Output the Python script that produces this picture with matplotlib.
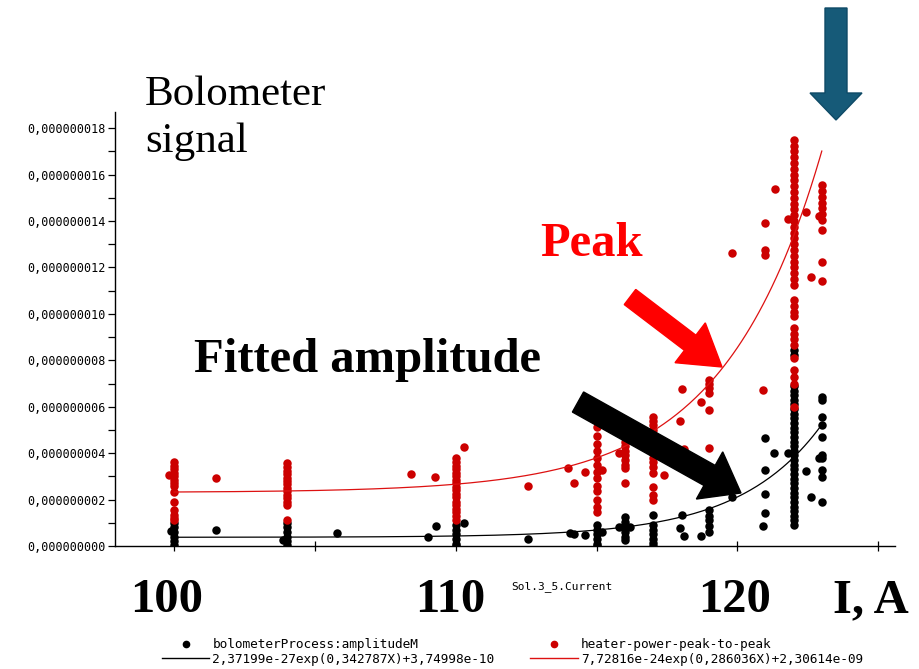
import numpy as np
import matplotlib.pyplot as plt
from matplotlib.lines import Line2D
from matplotlib.patches import FancyArrow
from matplotlib.ticker import FuncFormatter, MultipleLocator

# bolometer amplitude (black), signal in units of 1e-9
amp_x = [100, 100, 100, 100, 100, 100, 99.9, 101.5,
         104, 104, 104, 104, 104, 104, 103.85, 105.8,
         109.0, 109.3, 110.3, 110, 110, 110, 110, 110, 110, 112.55,
         114.05, 114.2, 114.6, 115, 115, 115, 115, 115, 115, 115.2,
         116, 116, 116, 116, 116, 116, 115.8, 116.2,
         117, 117, 117, 117, 117, 117, 117,
         118.05, 117.95, 118.1, 118.7, 119, 119, 119, 119, 119, 119.8,
         121.0, 121.0, 121.0, 121.0, 120.9, 121.3, 121.8,
         122, 122, 122, 122, 122, 122, 122, 122, 122, 122, 122, 122, 122, 122,
         122, 122, 122, 122, 122, 122, 122, 122, 122, 122, 122, 122, 122, 122,
         122, 122, 122, 122, 122,
         122.45, 122.6, 122.9,
         123, 123, 123, 123, 123, 123, 123, 123, 123, 123]
amp_y = [1.0, 0.8, 0.6, 0.4, 0.2, 0.05, 0.65, 0.69,
         1.0, 0.8, 0.6, 0.4, 0.2, 0.05, 0.26, 0.56,
         0.39, 0.86, 0.99, 0.9, 0.7, 0.5, 0.3, 0.1, 0.0, 0.3,
         0.55, 0.5, 0.47, 0.9, 0.7, 0.5, 0.3, 0.1, 0.0, 0.6,
         1.25, 1.05, 0.85, 0.6, 0.4, 0.25, 0.82, 0.82,
         1.34, 0.9, 0.7, 0.5, 0.3, 0.15, 0.0,
         1.34, 0.78, 0.43, 0.43, 1.55, 1.3, 1.1, 0.85, 0.6, 2.11,
         4.66, 3.28, 2.25, 1.42, 0.86, 4.0, 4.0,
         8.45, 8.25, 6.9, 6.7, 6.5, 6.3, 6.1, 5.9, 5.7, 5.5, 5.3, 5.1, 4.9, 4.7,
         4.5, 4.3, 4.1, 3.9, 3.7, 3.5, 3.3, 3.1, 2.9, 2.7, 2.5, 2.3, 2.1, 1.9,
         1.7, 1.5, 1.3, 1.1, 0.9,
         3.23, 2.1, 3.78,
         6.44, 6.29, 5.57, 5.21, 4.71, 3.92, 3.78, 3.28, 2.99, 1.91]

# heater power peak-to-peak (red), units of 1e-9
peak_x = [100] * 14 + [99.8, 101.5] + [104] * 14 + \
         [108.4, 109.25, 110.3, 112.55] + [110] * 18 + \
         [114.0, 114.2, 114.6, 115.2] + [115] * 13 + [116] * 12 + [115.8] + \
         [117] * 16 + [117.4, 117.95, 118.1, 118.05, 118.7] + [119] * 6 + \
         [119.82, 120.9, 121.0, 121.0, 121.0, 121.35, 121.8, 122.45, 122.6, 122.9] + \
         [122] * 39 + [123] * 10
peak_y = [3.6, 3.45, 3.3, 3.15, 3.0, 2.85, 2.7, 2.6, 2.34, 1.91, 1.55, 1.34, 1.12, 1.2,
          3.06, 2.93,
          3.58, 3.4, 3.25, 3.1, 2.95, 2.8, 2.65, 2.5, 2.35, 2.2, 2.05, 1.9, 1.75, 1.12,
          3.1, 2.97, 4.27, 2.59,
          3.79, 3.6, 3.45, 3.3, 3.15, 3.0, 2.85, 2.7, 2.55, 2.4, 2.25, 2.1, 1.9, 1.75,
          1.6, 1.45, 1.3, 1.12,
          3.36, 2.72, 3.19, 3.28,
          5.13, 4.75, 4.4, 4.1, 3.8, 3.5, 3.2, 2.95, 2.6, 2.35, 2.0, 1.7, 1.45,
          5.3, 5.1, 4.9, 4.7, 4.5, 4.3, 4.1, 3.9, 3.7, 3.5, 3.36, 2.72, 4.0,
          5.57, 5.4, 5.2, 5.0, 4.8, 4.6, 4.4, 4.2, 4.0, 3.8, 3.6, 3.42, 3.15, 2.56,
          2.2, 1.98,
          3.06, 5.39, 4.18, 6.77, 6.2,
          7.16, 7.0, 6.8, 6.6, 5.86, 4.22,
          12.63, 6.72, 13.9, 12.75, 12.55, 15.4, 14.1, 14.4, 11.6, 14.2,
          17.5, 17.25, 17.0, 16.75, 16.5, 16.25, 16.0, 15.75, 15.5, 15.25, 15.0,
          14.75, 14.5, 14.25, 14.0, 13.75, 13.5, 13.25, 13.0, 12.75, 12.5, 12.25,
          12.0, 11.75, 11.5, 11.25,
          10.6, 10.35, 10.1, 9.9, 9.4, 9.15, 8.9, 8.66, 8.1, 7.6, 7.3, 7.0, 6.0,
          15.56, 15.3, 15.05, 14.8, 14.55, 14.3, 14.05, 13.6, 12.25, 11.4]

# exponential fits a*exp(b*X)+c
amp_fit = (2.37199e-27, 0.342787, 3.74998e-10)
peak_fit = (7.72816e-24, 0.286036, 2.30614e-09)
fit_range = (100, 123)

amp_label = "bolometerProcess:amplitudeM"
peak_label = "heater-power-peak-to-peak"
amp_fit_label = "2,37199e-27exp(0,342787X)+3,74998e-10"
peak_fit_label = "7,72816e-24exp(0,286036X)+2,30614e-09"

RED = "#cc0000"
MONO = "DejaVu Sans Mono"
SERIF = "Liberation Serif"

fig = plt.figure(figsize=(9.2, 6.69), dpi=100)
ax = fig.add_axes([115 / 920, 123 / 669, 780 / 920, 434 / 669])

ax.plot(np.array(amp_x), np.array(amp_y) * 1e-9, "o", color="black",
        markersize=6.1, markeredgewidth=0)
ax.plot(np.array(peak_x), np.array(peak_y) * 1e-9, "o", color=RED,
        markersize=6.1, markeredgewidth=0)

xs = np.linspace(*fit_range, 300)
a, b, c = amp_fit
ax.plot(xs, a * np.exp(b * xs) + c, color="black", lw=0.9)
a, b, c = peak_fit
ax.plot(xs, a * np.exp(b * xs) + c, color="#dd1111", lw=0.9)

ax.set_xlim(97.9, 125.6)
ax.set_ylim(0, 18.7e-9)
for s in ("top", "right"):
    ax.spines[s].set_visible(False)
ax.spines["left"].set_linewidth(1.0)
ax.spines["bottom"].set_linewidth(1.0)

ax.xaxis.set_major_locator(MultipleLocator(5))
ax.tick_params(axis="x", direction="inout", length=7, width=0.9, labelbottom=False)
ax.yaxis.set_major_locator(MultipleLocator(2e-9))
ax.yaxis.set_minor_locator(MultipleLocator(1e-9))
ax.yaxis.set_major_formatter(FuncFormatter(lambda v, p: f"{v:.9f}".replace(".", ",")))
ax.tick_params(axis="y", which="both", direction="out", length=5, width=0.9, pad=2,
               labelsize=8.5)
for t in ax.get_yticklabels():
    t.set_family(MONO)

# axis name under the x axis
fig.text(562 / 920, 1 - 587 / 669, "Sol.3_5.Current", family=MONO, fontsize=8,
         ha="center", va="center")

# large labels
big = dict(family=SERIF, fontweight="bold", fontsize=35, va="baseline", ha="center")
for val, px in zip([100, 110, 120], [167, 450, 735]):
    fig.text(px / 920, 1 - 612 / 669, str(val), **big)
fig.text(871 / 920, 1 - 612 / 669, "I, A", **big)

fig.text(145 / 920, 1 - 105 / 669, "Bolometer", family=SERIF, fontsize=31,
         va="baseline", ha="left")
fig.text(145 / 920, 1 - 152 / 669, "signal", family=SERIF, fontsize=31,
         va="baseline", ha="left")
fig.text(592 / 920, 1 - 256 / 669, "Peak", family=SERIF, fontsize=35,
         fontweight="bold", color="#ff0000", va="baseline", ha="center")
fig.text(368 / 920, 1 - 372 / 669, "Fitted amplitude", family=SERIF, fontsize=35,
         fontweight="bold", color="black", va="baseline", ha="center")


def px_arrow(x0, y0, x1, y1, width, head_w, head_l, color, ec=None):
    # arrow given in pixel coordinates (origin top-left)
    tr = fig.dpi_scale_trans
    arr = FancyArrow(x0 / 100, (669 - y0) / 100, (x1 - x0) / 100, (y0 - y1) / 100,
                     width=width / 100, head_width=head_w / 100, head_length=head_l / 100,
                     length_includes_head=True, transform=tr, color=color,
                     ec=ec or color, lw=1.0, zorder=10)
    fig.add_artist(arr)


px_arrow(630, 297, 722, 367, 19, 50, 40, "#ff0000")
px_arrow(578, 402, 741, 493, 23, 54, 36, "black")
px_arrow(836, 8, 836, 120, 22, 52, 27, "#165a78", ec="#0e4a66")

# legend
handles = [Line2D([], [], ls="none", marker="o", color="black", markersize=4.5),
           Line2D([], [], color="black", lw=1.0),
           Line2D([], [], ls="none", marker="o", color=RED, markersize=4.5),
           Line2D([], [], color="#dd1111", lw=1.0)]
labels = [amp_label, amp_fit_label, peak_label, peak_fit_label]
fig.legend(handles, labels, ncol=2, loc="upper left", bbox_to_anchor=(162 / 920, 1 - 638 / 669),
           frameon=False, prop={"family": MONO, "size": 9.2}, handlelength=3.7,
           handletextpad=0.25, labelspacing=0.15, columnspacing=2.8, borderpad=0,
           borderaxespad=0)

fig.savefig("out.png", dpi=100)
